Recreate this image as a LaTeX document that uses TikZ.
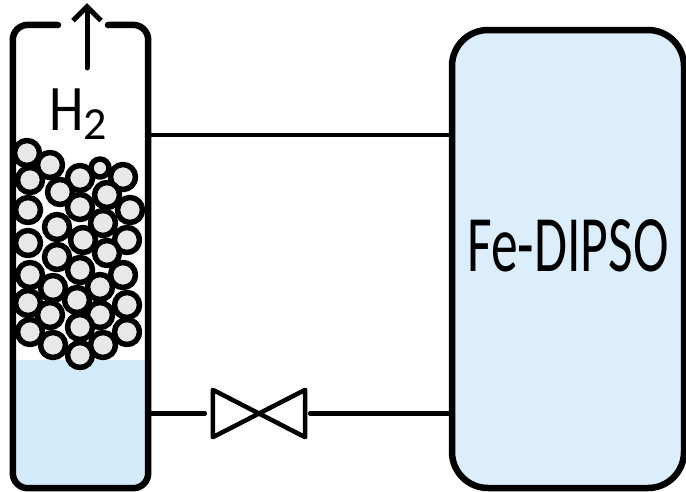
\documentclass[tikz,border=0pt]{standalone}
\usepackage{fontspec}
\setmainfont{Carlito}
\usetikzlibrary{arrows.meta}

\definecolor{liquidblue}{RGB}{210,234,250}
\definecolor{tankblue}{RGB}{220,238,252}
\definecolor{beadgrey}{RGB}{232,232,232}

\begin{document}
\begin{tikzpicture}[x=1pt,y=-1pt,line join=round,line cap=round]

  \tikzset{vessel/.style={draw,line width=6.5pt,rounded corners=15pt},
           pipe/.style={line width=4.5pt},
           bead/.style={draw,fill=beadgrey,line width=5.5pt},
           liquid/.style={fill=liquidblue}}

  \useasboundingbox (0,0) rectangle (686,491);

  % packed column and the tank
  \node[minimum width=135pt,minimum height=463pt,inner sep=0pt] (column) at (80.5,256.5) {};
  \node[vessel,fill=tankblue,rounded corners=36pt,minimum width=232pt,minimum height=458pt,inner sep=0pt] (tank) at (568,259) {};
  \node[font=\fontsize{80}{80}\selectfont,inner sep=0pt] (tanklabel) at ([yshift=13pt]tank.center) {\scalebox{0.67}[1]{Fe-DIPSO}};

  % liquid in the bottom of the column
  \begin{scope}
    \clip[rounded corners=15pt] (column.north west) rectangle (column.south east);
    \fill[liquid] (column.west |- 0,360) rectangle (column.south east);
  \end{scope}

  % catalyst beads
  \foreach \bx/\by in {27/153,50/165,123/177,30/180,80/178,60/192,107/195,
                       28/210,80/207,130/210,57/227,103/223,83/240,28/243,127/240,
                       57/257,107/253,30/275,80/270,123/275,53/288,100/287,
                       28/303,77/300,127/305,50/315,100/315,30/332,80/327,
                       127/332,53/345,103/345,80/355}
    \draw[bead] (\bx,\by) circle[radius=12.5pt];
  \draw[bead] (100,168) circle[radius=9pt];

  % column wall, open at the top
  \draw[vessel] (58,25) -- (column.north west) -- (column.south west)
    -- (column.south east) -- (column.north east) -- (108,25);

  % gas outlet
  \node[font=\fontsize{65}{65}\selectfont,inner sep=0pt,anchor=base west] (gas) at (49,130)
    {\scalebox{0.85}[1]{H}\raisebox{-0.3ex}{\fontsize{46}{46}\selectfont 2}};
  \coordinate (outlet) at (87,3);
  \draw[line width=5pt,-{Straight Barb[length=14pt,width=28pt,line width=5pt]}] (87,68) -- (outlet);

  % valve on the lower line
  \node[minimum width=92pt,minimum height=47pt,inner sep=0pt] (valve) at (259,413.5) {};
  \draw[pipe] (valve.north west) -- (valve.south east) -- (valve.north east)
    -- (valve.south west) -- cycle;

  % connecting lines
  \draw[pipe] (column.east |- 0,135) -- (tank.west |- 0,135);
  \draw[pipe,shorten >=8pt] (column.east |- valve) -- (valve.west);
  \draw[pipe,shorten <=5pt] (valve.east) -- (tank.west |- valve);

\end{tikzpicture}
\end{document}
